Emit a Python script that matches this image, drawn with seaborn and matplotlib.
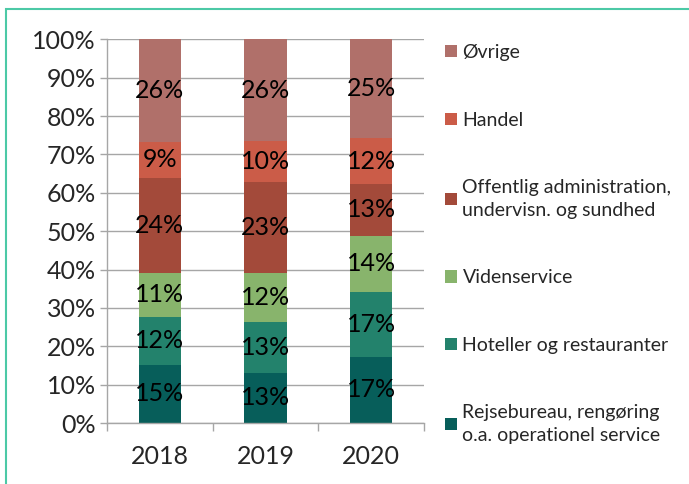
import seaborn as sns
import matplotlib.pyplot as plt
import pandas as pd
from matplotlib.patches import Patch, Rectangle

years = ["2018", "2019", "2020"]
# shares in %, bottom to top
rejse = [15.0, 12.8, 17.1]
hotel = [12.45, 13.0, 16.8]
viden = [11.4, 12.45, 14.45]
offentlig = [24.4, 23.2, 13.3]
handel = [9.45, 10.45, 11.9]
oevrige = [26.45, 26.1, 25.45]

names = ["Rejsebureau, rengøring\no.a. operationel service",
         "Hoteller og restauranter",
         "Videnservice",
         "Offentlig administration,\nundervisn. og sundhed",
         "Handel",
         "Øvrige"]
colors = ["#075E5A", "#23826C", "#88B46C", "#A34A3A", "#CB5C48", "#B0706A"]

sns.set_theme(style="white")
plt.rcParams['font.family'] = ['Lato', 'DejaVu Sans']

df = pd.DataFrame({"year": years, "rejse": rejse, "hotel": hotel, "viden": viden,
                   "offentlig": offentlig, "handel": handel, "oevrige": oevrige})
cols = ["rejse", "hotel", "viden", "offentlig", "handel", "oevrige"]
total = df[cols].sum(axis=1)
share = df[cols].div(total, axis=0) * 100
top = share.cumsum(axis=1)

fig = plt.figure(figsize=(6.89, 4.84), dpi=100)
ax = fig.add_axes([0.1553, 0.126, 0.4601, 0.7928])

# draw the tallest stack first so lower segments sit on top
for c, col in reversed(list(zip(cols, colors))):
    sns.barplot(x=df["year"], y=top[c], color=col, width=0.4, ax=ax,
                saturation=1, linewidth=0)

for i in range(len(years)):
    for c in cols:
        h = share.loc[i, c]
        y = top.loc[i, c] - h / 2
        ax.text(i, y, f"{df.loc[i, c]:.0f}%", ha="center", va="center",
                fontsize=18, color="black")

ax.set_ylim(0, 100)
ax.set_xlim(-0.5, 2.5)
ax.set_yticks(range(0, 101, 10))
ax.set_yticklabels([f"{v}%" for v in range(0, 101, 10)], fontsize=18)
ax.yaxis.grid(True, color="#A6A6A6", linewidth=1)
ax.set_axisbelow(True)
ax.set_xlabel("")
ax.set_ylabel("")
ax.tick_params(axis="x", which="major", length=0, pad=16, labelsize=18)
ax.set_xticks([-0.5, 0.5, 1.5, 2.5], minor=True)
ax.tick_params(axis="x", which="minor", length=6, color="#A6A6A6", width=1,
               direction="out", bottom=True)
ax.tick_params(axis="y", length=5, color="#A6A6A6", width=1, left=True, pad=3)
for s in ["top", "right"]:
    ax.spines[s].set_visible(False)
for s in ["left", "bottom"]:
    ax.spines[s].set_color("#A6A6A6")
    ax.spines[s].set_linewidth(1)

handles = [Patch(facecolor=col, edgecolor="none") for col in colors]
leg = fig.legend(handles[::-1], names[::-1], loc="upper left",
                 bbox_to_anchor=(445 / 689, 1 - 44 / 484), frameon=False,
                 fontsize=14, handlelength=0.6, handleheight=0.6,
                 handletextpad=0.3, labelspacing=2.6, borderaxespad=0,
                 borderpad=0)
for t in leg.get_texts():
    t.set_linespacing(1.4)

fig.patches.append(Rectangle((6 / 689, -0.1), 1.2, 1 - 9 / 484 + 0.1,
                             transform=fig.transFigure, fill=False,
                             edgecolor="#4CC9A6", linewidth=1.5))

fig.savefig("out.png", dpi=100)
